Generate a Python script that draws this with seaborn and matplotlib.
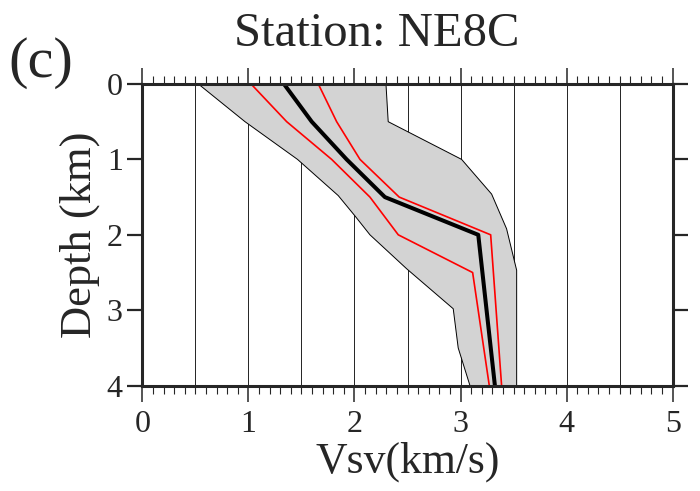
import numpy as np
import pandas as pd
import matplotlib
matplotlib.use("Agg")
import matplotlib.pyplot as plt
import seaborn as sns
from matplotlib.ticker import MultipleLocator

# Vsv profile for station NE8C
mean_depth = [0, 0.5, 1.0, 1.5, 2.0, 4.0]
mean_vsv = [1.335, 1.597, 1.926, 2.287, 3.167, 3.324]

low_depth = [0, 0.5, 1.0, 1.5, 2.0, 2.5, 4.0]
low_vsv = [1.025, 1.361, 1.785, 2.146, 2.413, 3.114, 3.271]

high_depth = [0, 0.5, 1.0, 1.5, 2.0, 4.0]
high_vsv = [1.659, 1.832, 2.052, 2.422, 3.284, 3.387]

# gray band (full model range)
band_left_depth = [0, 0.5, 1.0, 1.48, 1.75, 2.0, 2.45, 2.98, 3.5, 4.0]
band_left_vsv = [0.528, 0.968, 1.463, 1.847, 2.005, 2.146, 2.492, 2.931, 2.978, 3.089]
band_right_depth = [0, 0.5, 1.0, 1.46, 1.92, 2.47, 4.0]
band_right_vsv = [2.297, 2.318, 3.01, 3.293, 3.434, 3.529, 3.529]

sns.set_style("white")
plt.rcParams['font.family'] = ['Liberation Serif', 'DejaVu Serif']

fig = plt.figure(figsize=(7, 4.91), dpi=100)
ax = fig.add_axes([0.2033, 0.2145, 0.7577, 0.6145])

# band polygon
poly_x = band_left_vsv + band_right_vsv[::-1]
poly_y = band_left_depth + band_right_depth[::-1]
ax.fill(poly_x, poly_y, color='#d3d3d3', zorder=2, lw=0)
sns.lineplot(x=band_left_vsv, y=band_left_depth, sort=False, estimator=None,
             color='black', lw=0.7, ax=ax, zorder=3)
sns.lineplot(x=band_right_vsv, y=band_right_depth, sort=False, estimator=None,
             color='black', lw=0.7, ax=ax, zorder=3)

sns.lineplot(x=low_vsv, y=low_depth, sort=False, estimator=None,
             color='red', lw=1.2, ax=ax, zorder=4)
sns.lineplot(x=high_vsv, y=high_depth, sort=False, estimator=None,
             color='red', lw=1.2, ax=ax, zorder=4)
sns.lineplot(x=mean_vsv, y=mean_depth, sort=False, estimator=None,
             color='black', lw=2.9, ax=ax, zorder=5)

# vertical grid every 0.5
for g in np.arange(0.5, 5.0, 0.5):
    ax.axvline(g, color='black', lw=0.6, zorder=1)

ax.set_xlim(0, 5)
ax.set_ylim(4, 0)

ax.xaxis.set_major_locator(MultipleLocator(1))
ax.xaxis.set_minor_locator(MultipleLocator(0.1))
ax.yaxis.set_major_locator(MultipleLocator(1))

ax.tick_params(axis='x', which='major', direction='out', length=11.5, width=1.1,
               top=True, bottom=True, labeltop=False, labelsize=23, pad=6)
ax.tick_params(axis='x', which='minor', direction='out', length=5.5, width=0.8,
               top=True, bottom=True)
ax.tick_params(axis='y', which='major', direction='out', length=11, width=1.6,
               left=True, right=True, labelsize=23, pad=3)

for s in ax.spines.values():
    s.set_linewidth(2.2)
    s.set_zorder(6)

ax.set_xlabel('Vsv(km/s)', fontsize=31.5, labelpad=2)
ax.set_ylabel('Depth (km)', fontsize=32, labelpad=5)

fig.text(377 / 700, 1 - 34 / 491, 'Station: NE8C', fontsize=35, ha='center', va='center')
fig.text(41 / 700, 1 - 63 / 491, '(c)', fontsize=42, ha='center', va='center')

fig.savefig('out.png', dpi=100)
